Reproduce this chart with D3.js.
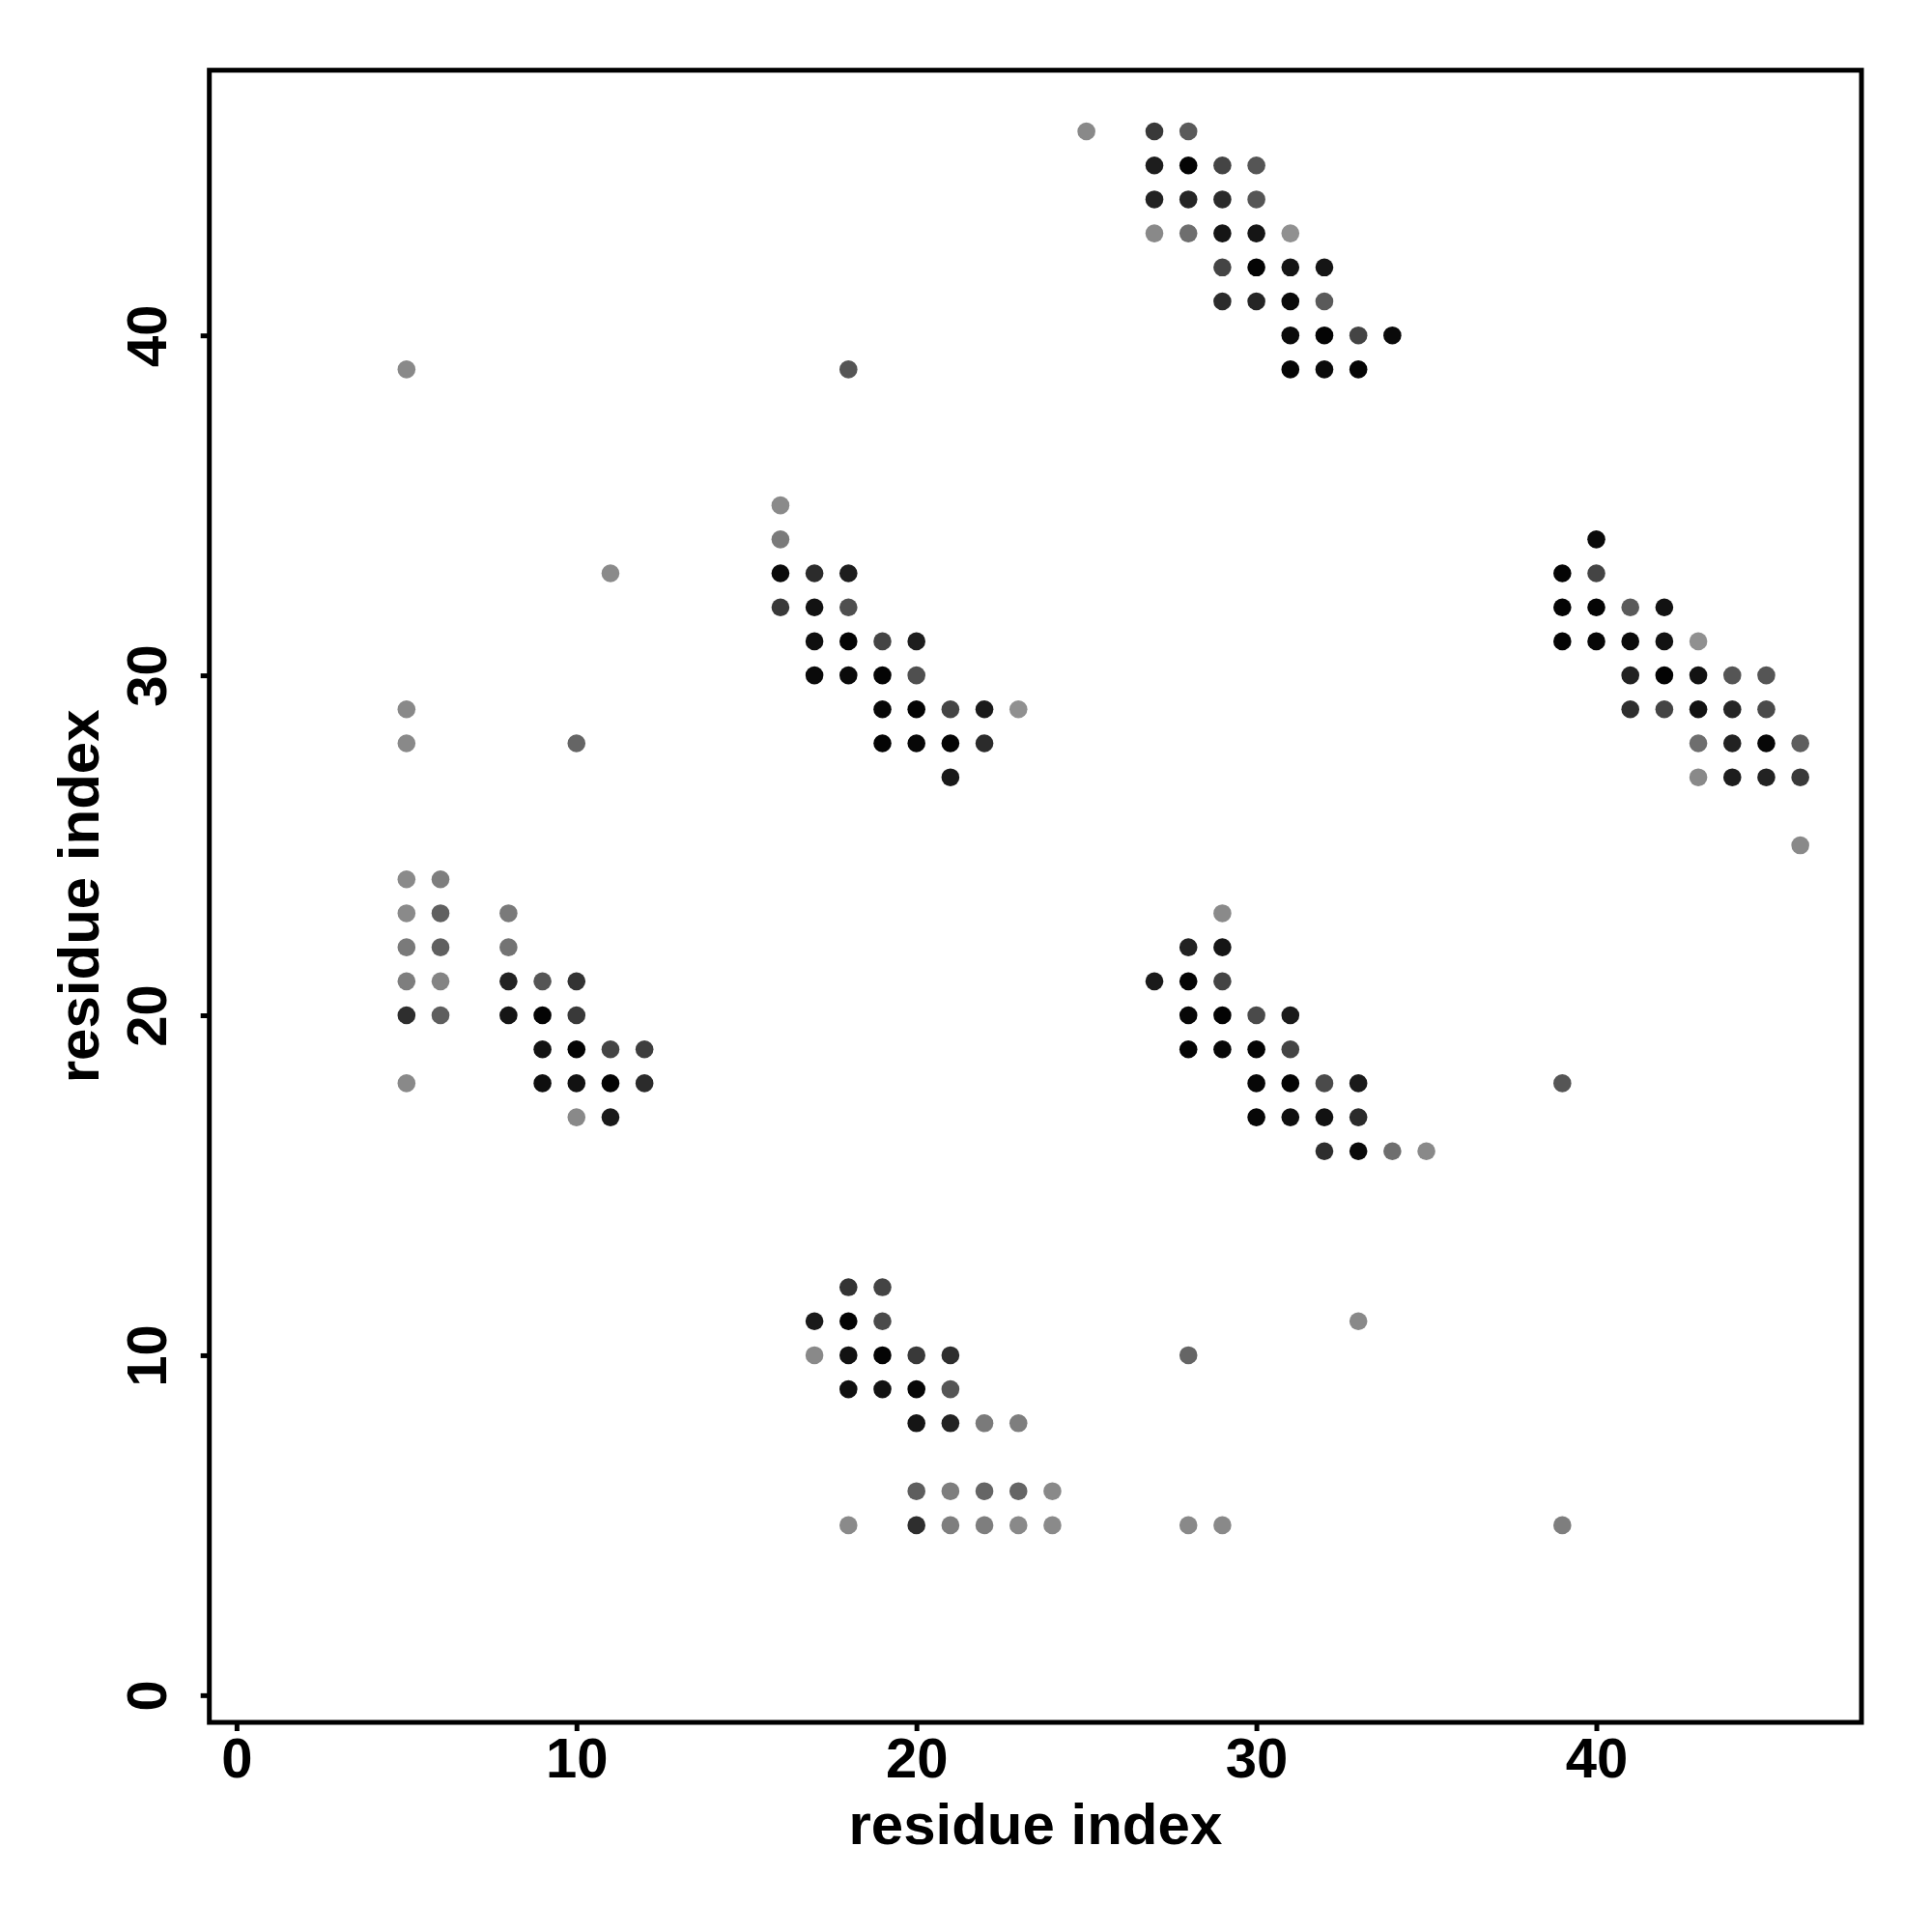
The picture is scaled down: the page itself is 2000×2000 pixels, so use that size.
<!DOCTYPE html>
<html>
<head>
<meta charset="utf-8">
<script src="https://cdn.jsdelivr.net/npm/d3@7/dist/d3.min.js"></script>
<style>
  html, body { margin: 0; padding: 0; background: #fff; }
  svg { display: block; }
  text { font-family: "Liberation Sans", Arial, Helvetica, sans-serif; font-weight: bold; fill: #000; }
</style>
</head>
<body>
<script>
// ---- data: [residue i, residue j, contact probability] ----
const clusterTop = [
  [25,46,0.07],[27,46,0.61],[28,46,0.39],
  [27,45,0.80],[28,45,0.97],[29,45,0.54],[30,45,0.42],
  [27,44,0.77],[28,44,0.75],[29,44,0.71],[30,44,0.42],
  [27,43,0.07],[28,43,0.25],[29,43,0.86],[30,43,0.86],[31,43,0.02],
  [29,42,0.54],[30,42,0.97],[31,42,0.86],[32,42,0.86],
  [29,41,0.71],[30,41,0.75],[31,41,0.93],[32,41,0.39],
  [31,40,0.93],[32,40,0.97],[33,40,0.54],[34,40,0.93],
  [31,39,0.97],[32,39,0.93],[33,39,0.97]
];
const clusterLeft = [
  [5,24,0.06],[6,24,0.14],
  [5,23,0.06],[6,23,0.35],[8,23,0.17],
  [5,22,0.17],[6,22,0.35],[8,22,0.22],
  [5,21,0.14],[6,21,0.10],[8,21,0.77],[9,21,0.42],[10,21,0.65],
  [5,20,0.69],[6,20,0.36],[8,20,0.86],[9,20,0.97],[10,20,0.61],
  [9,19,0.88],[10,19,0.97],[11,19,0.54],[12,19,0.58],
  [5,18,0.07],[9,18,0.90],[10,18,0.88],[11,18,0.97],[12,18,0.71],
  [10,17,0.07],[11,17,0.82]
];
const clusterUpperMid = [
  [16,35,0.06],[16,34,0.17],
  [16,33,0.93],[17,33,0.71],[18,33,0.80],
  [16,32,0.61],[17,32,0.88],[18,32,0.46],
  [17,31,0.90],[18,31,0.97],[19,31,0.54],[20,31,0.80],
  [17,30,0.93],[18,30,0.93],[19,30,0.97],[20,30,0.46],
  [19,29,0.95],[20,29,0.97],[21,29,0.54],[22,29,0.82],[23,29,0.02],
  [19,28,0.97],[20,28,0.95],[21,28,0.97],[22,28,0.71],
  [21,27,0.82]
];
const clusterRight = [
  [40,34,0.93],
  [39,33,0.97],[40,33,0.54],
  [39,32,0.97],[40,32,0.97],[41,32,0.39],[42,32,0.88],
  [39,31,0.97],[40,31,0.95],[41,31,0.93],[42,31,0.88],[43,31,0.02],
  [41,30,0.77],[42,30,0.98],[43,30,0.88],[44,30,0.42],[45,30,0.42],
  [41,29,0.69],[42,29,0.54],[43,29,0.88],[44,29,0.75],[45,29,0.50],
  [43,28,0.25],[44,28,0.77],[45,28,0.95],[46,28,0.36],
  [43,27,0.07],[44,27,0.80],[45,27,0.77],[46,27,0.61],
  [46,25,0.07]
];
const clusterMid = [
  [29,23,0.06],
  [28,22,0.77],[29,22,0.86],
  [27,21,0.82],[28,21,0.97],[29,21,0.54],
  [28,20,0.95],[29,20,0.98],[30,20,0.50],[31,20,0.82],
  [28,19,0.97],[29,19,0.95],[30,19,0.97],[31,19,0.54],
  [30,18,0.95],[31,18,0.97],[32,18,0.50],[33,18,0.82],
  [30,17,0.95],[31,17,0.90],[32,17,0.88],[33,17,0.71],
  [32,16,0.69],[33,16,0.93],[34,16,0.25],[35,16,0.07]
];
const clusterBottom = [
  [18,12,0.65],[19,12,0.54],
  [17,11,0.82],[18,11,0.97],[19,11,0.50],
  [17,10,0.07],[18,10,0.88],[19,10,0.97],[20,10,0.61],[21,10,0.69],
  [18,9,0.90],[19,9,0.88],[20,9,0.95],[21,9,0.42],
  [20,8,0.86],[21,8,0.77],[22,8,0.17],[23,8,0.14],
  [20,6,0.36],[21,6,0.14],[22,6,0.31],[23,6,0.31],[24,6,0.07],
  [18,5,0.06],[20,5,0.69],[21,5,0.14],[22,5,0.14],[23,5,0.07],[24,5,0.06]
];
const isolated = [
  [5,39,0.07],[18,39,0.42],[11,33,0.06],[5,29,0.07],[5,28,0.07],[10,28,0.31],
  [39,18,0.42],[28,10,0.31],[33,11,0.07],[28,5,0.07],[29,5,0.07],[39,5,0.14]
];
const xTicks = [0, 10, 20, 30, 40];
const yTicks = [0, 10, 20, 30, 40];
const axisLimits = [1, 46];
const xLabel = "residue index";
const yLabel = "residue index";

// ---- drawing ----
const W = 2000, H = 2000;
const box = { left: 216.7, right: 1927, top: 72.7, bottom: 1783 };
const pad = 0.04 * (axisLimits[1] - axisLimits[0]);
const dom = [axisLimits[0] - pad, axisLimits[1] + pad];

const x = d3.scaleLinear().domain(dom).range([box.left, box.right]);
const y = d3.scaleLinear().domain(dom).range([box.bottom, box.top]);
const shade = d3.scaleLinear().domain([0, 1]).range(["#939393", "#000000"]);

const svg = d3.select("body").append("svg").attr("width", W).attr("height", H);
svg.append("rect").attr("width", W).attr("height", H).attr("fill", "#fff");

const points = [].concat(clusterTop, clusterLeft, clusterUpperMid, clusterRight, clusterMid, clusterBottom, isolated);

svg.append("g").selectAll("circle").data(points).join("circle")
  .attr("cx", d => x(d[0]))
  .attr("cy", d => y(d[1]))
  .attr("r", 9.3)
  .attr("fill", d => shade(d[2]));

const fs = 58, fsTitle = 60, lw = 5;
const gx = svg.append("g").attr("transform", `translate(0,${box.bottom})`)
  .call(d3.axisBottom(x).tickValues(xTicks).tickSize(9).tickPadding(7).tickFormat(d3.format("d")));
gx.select(".domain").remove();
gx.selectAll(".tick line").attr("stroke", "#000").attr("stroke-width", lw);
gx.selectAll(".tick text").attr("font-size", fs).style("font-family", "'Liberation Sans', Arial, sans-serif");

const gy = svg.append("g").attr("transform", `translate(${box.left},0)`)
  .call(d3.axisLeft(y).tickValues(yTicks).tickSize(9).tickFormat(d3.format("d")));
gy.select(".domain").remove();
gy.selectAll(".tick line").attr("stroke", "#000").attr("stroke-width", lw);
gy.selectAll(".tick text")
  .attr("font-size", fs)
  .attr("x", 0).attr("y", 0).attr("dy", null)
  .attr("text-anchor", "middle")
  .attr("transform", "translate(-44.7,0) rotate(-90)")
  .style("font-family", "'Liberation Sans', Arial, sans-serif");

svg.selectAll(".tick text").attr("fill", "#000").style("font-weight", "bold");

svg.append("rect")
  .attr("x", box.left).attr("y", box.top)
  .attr("width", box.right - box.left).attr("height", box.bottom - box.top)
  .attr("fill", "none").attr("stroke", "#000").attr("stroke-width", lw);

svg.append("text")
  .attr("x", (box.left + box.right) / 2).attr("y", 1909)
  .attr("text-anchor", "middle").attr("font-size", fsTitle)
  .text(xLabel);

svg.append("text")
  .attr("transform", `translate(102,${(box.top + box.bottom) / 2}) rotate(-90)`)
  .attr("text-anchor", "middle").attr("font-size", fsTitle)
  .text(yLabel);
</script>
</body>
</html>
